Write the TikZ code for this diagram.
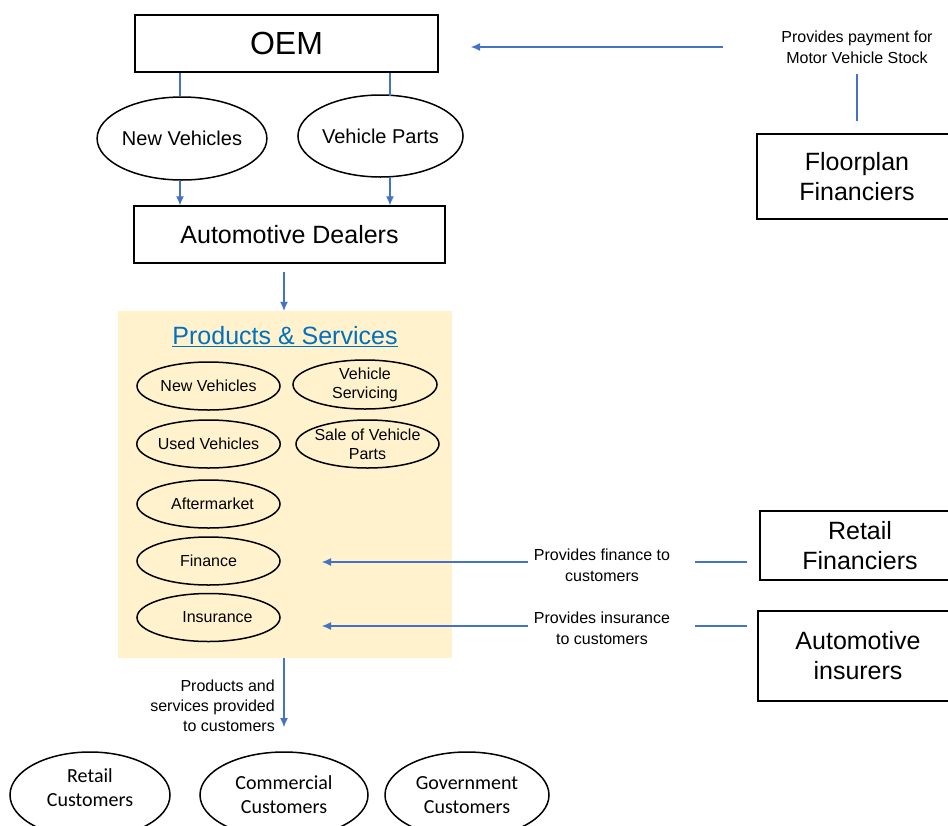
\documentclass[tikz,border=0pt]{standalone}
\usepackage{fontspec}
\setmainfont{Liberation Sans}
\newfontfamily\calfont{Carlito}
\usetikzlibrary{shapes.geometric,arrows.meta}
\definecolor{connc}{RGB}{68,114,196}
\definecolor{tanc}{RGB}{255,242,204}
\definecolor{ttlc}{RGB}{0,112,192}
\tikzset{
  box/.style={draw, line width=1.5pt, rectangle, inner sep=0pt, align=center},
  bigell/.style={draw, ellipse, line width=1.5pt, inner sep=0pt, align=center},
  smallell/.style={draw, ellipse, line width=1.5pt, inner sep=0pt, align=center,
     minimum width=143pt, minimum height=48pt, font=\fontsize{16}{19}\selectfont},
  custell/.style={draw, ellipse, line width=1.5pt, inner sep=0pt, align=center,
     minimum height=86pt, font=\calfont\fontsize{20}{24}\selectfont},
  arr/.style={draw=connc, line width=1.1pt, -{Latex[length=9pt,width=8pt]}},
  plain/.style={draw=connc, line width=1.1pt},
  lbl/.style={align=center, font=\fontsize{16}{21}\selectfont, inner sep=0pt}
}
\begin{document}
\begin{tikzpicture}[x=1pt,y=-1pt]
\clip (0,0) rectangle (948,825);
\fill[white] (0,0) rectangle (948,825);

% top boxes
\node[box, minimum width=303pt, minimum height=57pt, font=\fontsize{32}{38}\selectfont] (oem) at (286.5,43.5) {OEM};
\node[bigell, minimum width=162pt, minimum height=83pt, font=\fontsize{20}{24}\selectfont] (nv) at (182,138.5) {New Vehicles};
\node[bigell, minimum width=163pt, minimum height=82pt, font=\fontsize{20}{24}\selectfont] (vp) at (380.5,136) {Vehicle Parts};
\node[box, minimum width=311pt, minimum height=57pt, font=\fontsize{25}{30}\selectfont] (dealers) at (289.5,234.5) {Automotive Dealers};

\draw[plain] (oem.south -| 180,0) -- (nv.north -| 180,0);
\draw[plain] (oem.south -| 390,0) -- (390,96);
\draw[arr] (nv.south -| 180,0) -- (dealers.north -| 180,0);
\draw[arr] (390,177) -- (dealers.north -| 390,0);

% floorplan
\node[box, minimum width=200pt, minimum height=85pt, font=\fontsize{25}{30}\selectfont] (floor) at (857,176.5) {Floorplan\\Financiers};
\node[lbl] (paylbl) at (857,47.5) {Provides payment for\\Motor Vehicle Stock};
\coordinate (payS) at (723,47);
\coordinate (payT) at (471,47);
\draw[arr] (payS) -- (payT);
\coordinate (payV1) at (857,74);
\coordinate (payV2) at (857,121);
\draw[plain] (payV1) -- (payV2);

% products and services
\node[fill=tanc, minimum width=334pt, minimum height=347pt, inner sep=0pt] (ps) at (285,484.5) {};
\coordinate (dA) at (284,272);
\draw[arr] (dA) -- (ps.north -| 284,0);
\node[text=ttlc, font=\fontsize{25}{30}\selectfont, inner sep=0pt] (pstitle) at (285,337) {\underline{Products \& Services}};

\node[smallell] (snv) at (208.5,386) {New Vehicles};
\node[smallell, minimum width=144pt, minimum height=49pt, inner xsep=-8pt] (svs) at (365,384.5) {Vehicle\\Servicing};
\node[smallell] (suv) at (208.5,444) {Used Vehicles};
\node[smallell, inner xsep=-8pt, inner ysep=-4pt] (ssp) at (367.5,444) {Sale of Vehicle\\Parts};
\node[smallell] (saf) at (208.5,504) {\hspace*{8pt}Aftermarket};
\node[smallell] (sfi) at (208.5,561) {Finance};
\node[smallell] (sin) at (208.5,617.5) {\hspace*{18pt}Insurance};

% retail financiers
\node[box, minimum width=200pt, minimum height=69pt, font=\fontsize{25}{30}\selectfont] (retail) at (860,545.5) {Retail\\Financiers};
\node[box, minimum width=200pt, minimum height=90pt, font=\fontsize{25}{30}\selectfont] (insurers) at (858,656) {Automotive\\insurers};

\node[lbl] (finlbl) at (602,565.5) {Provides finance to\\customers};
\node[lbl] (inslbl) at (602,628.5) {Provides insurance\\to customers};
\coordinate (finS) at (528,562);
\coordinate (finT) at (322,562);
\draw[arr] (finS) -- (finT);
\coordinate (insS) at (528,626);
\coordinate (insT) at (322,626);
\draw[arr] (insS) -- (insT);
\draw[plain] (retail.west |- 0,562) ++(-12,0) -- (695,562);
\draw[plain] (insurers.west |- 0,626) ++(-10,0) -- (695,626);

% bottom
\coordinate (custA) at (284,727);
\draw[arr] (ps.south -| 284,0) -- (custA);
\node[lbl, align=right, anchor=east, font=\fontsize{16}{20}\selectfont] (provlbl) at (275,706) {Products and\\services provided\\to customers};

\node[custell, minimum width=160pt] (rc) at (90,795) {};
\node[align=center, inner sep=0pt, font=\calfont\fontsize{20}{24}\selectfont] (rctext) at (90,788) {Retail\\Customers};
\node[custell, minimum width=168pt] (cc) at (284,795) {Commercial\\Customers};
\node[custell, minimum width=164pt] (gc) at (467,795) {Government\\Customers};
\end{tikzpicture}
\end{document}
